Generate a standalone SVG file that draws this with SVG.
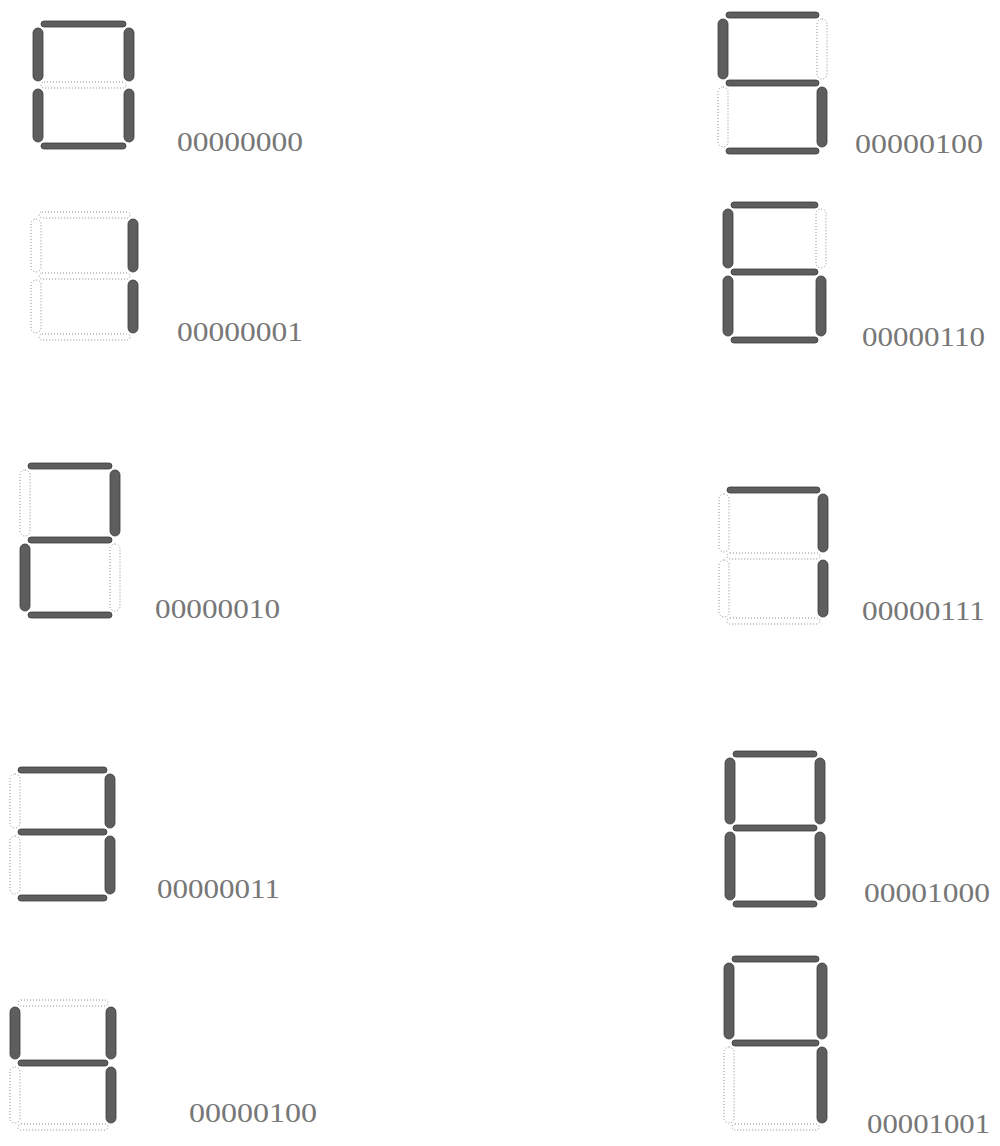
<svg xmlns="http://www.w3.org/2000/svg" width="1000" height="1146" viewBox="0 0 1000 1146">
<style>
.on{fill:#5e5e5e;stroke:#3a3a3a;stroke-width:0.8}
.off{fill:none;stroke:#8c8c8c;stroke-width:1;stroke-dasharray:1 2}
.lbl{font-family:"Liberation Serif","Times New Roman",serif;font-size:27px;fill:#777777}
</style>
<rect width="1000" height="1146" fill="#ffffff"/>
<g id="digit0">
<rect class="on" x="41" y="21" width="85" height="6" rx="3"/>
<rect class="on" x="124" y="28" width="10" height="53" rx="5"/>
<rect class="on" x="124" y="89" width="10" height="53" rx="5"/>
<rect class="on" x="41" y="143" width="85" height="6" rx="3"/>
<rect class="on" x="33" y="89" width="10" height="53" rx="5"/>
<rect class="on" x="33" y="28" width="10" height="53" rx="5"/>
<rect class="off" x="41" y="82" width="85" height="6" rx="3"/>
<text class="lbl" x="177" y="151" textLength="126" lengthAdjust="spacingAndGlyphs">00000000</text>
</g>
<g id="digit1">
<rect class="off" x="39" y="212" width="91" height="6" rx="3"/>
<rect class="on" x="128" y="219" width="10" height="53" rx="5"/>
<rect class="on" x="128" y="280" width="10" height="53" rx="5"/>
<rect class="off" x="39" y="334" width="91" height="6" rx="3"/>
<rect class="off" x="31" y="280" width="10" height="53" rx="5"/>
<rect class="off" x="31" y="219" width="10" height="53" rx="5"/>
<rect class="off" x="39" y="273" width="91" height="6" rx="3"/>
<text class="lbl" x="177" y="341" textLength="126" lengthAdjust="spacingAndGlyphs">00000001</text>
</g>
<g id="digit2">
<rect class="on" x="28" y="463" width="84" height="6" rx="3"/>
<rect class="on" x="110" y="470" width="10" height="66" rx="5"/>
<rect class="off" x="110" y="544" width="10" height="67" rx="5"/>
<rect class="on" x="28" y="612" width="84" height="6" rx="3"/>
<rect class="on" x="20" y="544" width="10" height="67" rx="5"/>
<rect class="off" x="20" y="470" width="10" height="66" rx="5"/>
<rect class="on" x="28" y="537" width="84" height="6" rx="3"/>
<text class="lbl" x="155" y="618" textLength="125" lengthAdjust="spacingAndGlyphs">00000010</text>
</g>
<g id="digit3">
<rect class="on" x="18" y="767" width="89" height="6" rx="3"/>
<rect class="on" x="105" y="774" width="10" height="54" rx="5"/>
<rect class="on" x="105" y="836" width="10" height="58" rx="5"/>
<rect class="on" x="18" y="895" width="89" height="6" rx="3"/>
<rect class="off" x="10" y="836" width="10" height="58" rx="5"/>
<rect class="off" x="10" y="774" width="10" height="54" rx="5"/>
<rect class="on" x="18" y="829" width="89" height="6" rx="3"/>
<text class="lbl" x="157" y="898" textLength="123" lengthAdjust="spacingAndGlyphs">00000011</text>
</g>
<g id="digit4">
<rect class="off" x="18" y="1000" width="90" height="6" rx="3"/>
<rect class="on" x="106" y="1007" width="10" height="52" rx="5"/>
<rect class="on" x="106" y="1067" width="10" height="56" rx="5"/>
<rect class="off" x="18" y="1124" width="90" height="6" rx="3"/>
<rect class="off" x="10" y="1067" width="10" height="56" rx="5"/>
<rect class="on" x="10" y="1007" width="10" height="52" rx="5"/>
<rect class="on" x="18" y="1060" width="90" height="6" rx="3"/>
<text class="lbl" x="189" y="1122" textLength="128" lengthAdjust="spacingAndGlyphs">00000100</text>
</g>
<g id="digit5">
<rect class="on" x="726" y="12" width="93" height="6" rx="3"/>
<rect class="off" x="817" y="19" width="10" height="60" rx="5"/>
<rect class="on" x="817" y="87" width="10" height="60" rx="5"/>
<rect class="on" x="726" y="148" width="93" height="6" rx="3"/>
<rect class="off" x="718" y="87" width="10" height="60" rx="5"/>
<rect class="on" x="718" y="19" width="10" height="60" rx="5"/>
<rect class="on" x="726" y="80" width="93" height="6" rx="3"/>
<text class="lbl" x="855" y="153" textLength="128" lengthAdjust="spacingAndGlyphs">00000100</text>
</g>
<g id="digit6">
<rect class="on" x="731" y="202" width="87" height="6" rx="3"/>
<rect class="off" x="816" y="209" width="10" height="59" rx="5"/>
<rect class="on" x="816" y="276" width="10" height="60" rx="5"/>
<rect class="on" x="731" y="337" width="87" height="6" rx="3"/>
<rect class="on" x="723" y="276" width="10" height="60" rx="5"/>
<rect class="on" x="723" y="209" width="10" height="59" rx="5"/>
<rect class="on" x="731" y="269" width="87" height="6" rx="3"/>
<text class="lbl" x="862" y="346" textLength="123" lengthAdjust="spacingAndGlyphs">00000110</text>
</g>
<g id="digit7">
<rect class="on" x="727" y="487" width="93" height="6" rx="3"/>
<rect class="on" x="818" y="494" width="10" height="58" rx="5"/>
<rect class="on" x="818" y="560" width="10" height="57" rx="5"/>
<rect class="off" x="727" y="618" width="93" height="6" rx="3"/>
<rect class="off" x="719" y="560" width="10" height="57" rx="5"/>
<rect class="off" x="719" y="494" width="10" height="58" rx="5"/>
<rect class="off" x="727" y="553" width="93" height="6" rx="3"/>
<text class="lbl" x="862" y="620" textLength="123" lengthAdjust="spacingAndGlyphs">00000111</text>
</g>
<g id="digit8">
<rect class="on" x="733" y="751" width="84" height="6" rx="3"/>
<rect class="on" x="815" y="758" width="10" height="66" rx="5"/>
<rect class="on" x="815" y="832" width="10" height="68" rx="5"/>
<rect class="on" x="733" y="901" width="84" height="6" rx="3"/>
<rect class="on" x="725" y="832" width="10" height="68" rx="5"/>
<rect class="on" x="725" y="758" width="10" height="66" rx="5"/>
<rect class="on" x="733" y="825" width="84" height="6" rx="3"/>
<text class="lbl" x="864" y="902" textLength="126" lengthAdjust="spacingAndGlyphs">00001000</text>
</g>
<g id="digit9">
<rect class="on" x="732" y="956" width="87" height="6" rx="3"/>
<rect class="on" x="817" y="963" width="10" height="76" rx="5"/>
<rect class="on" x="817" y="1047" width="10" height="76" rx="5"/>
<rect class="off" x="732" y="1124" width="87" height="6" rx="3"/>
<rect class="off" x="724" y="1047" width="10" height="76" rx="5"/>
<rect class="on" x="724" y="963" width="10" height="76" rx="5"/>
<rect class="on" x="732" y="1040" width="87" height="6" rx="3"/>
<text class="lbl" x="867" y="1133" textLength="123" lengthAdjust="spacingAndGlyphs">00001001</text>
</g>
<g id="connectors"></g>
</svg>
